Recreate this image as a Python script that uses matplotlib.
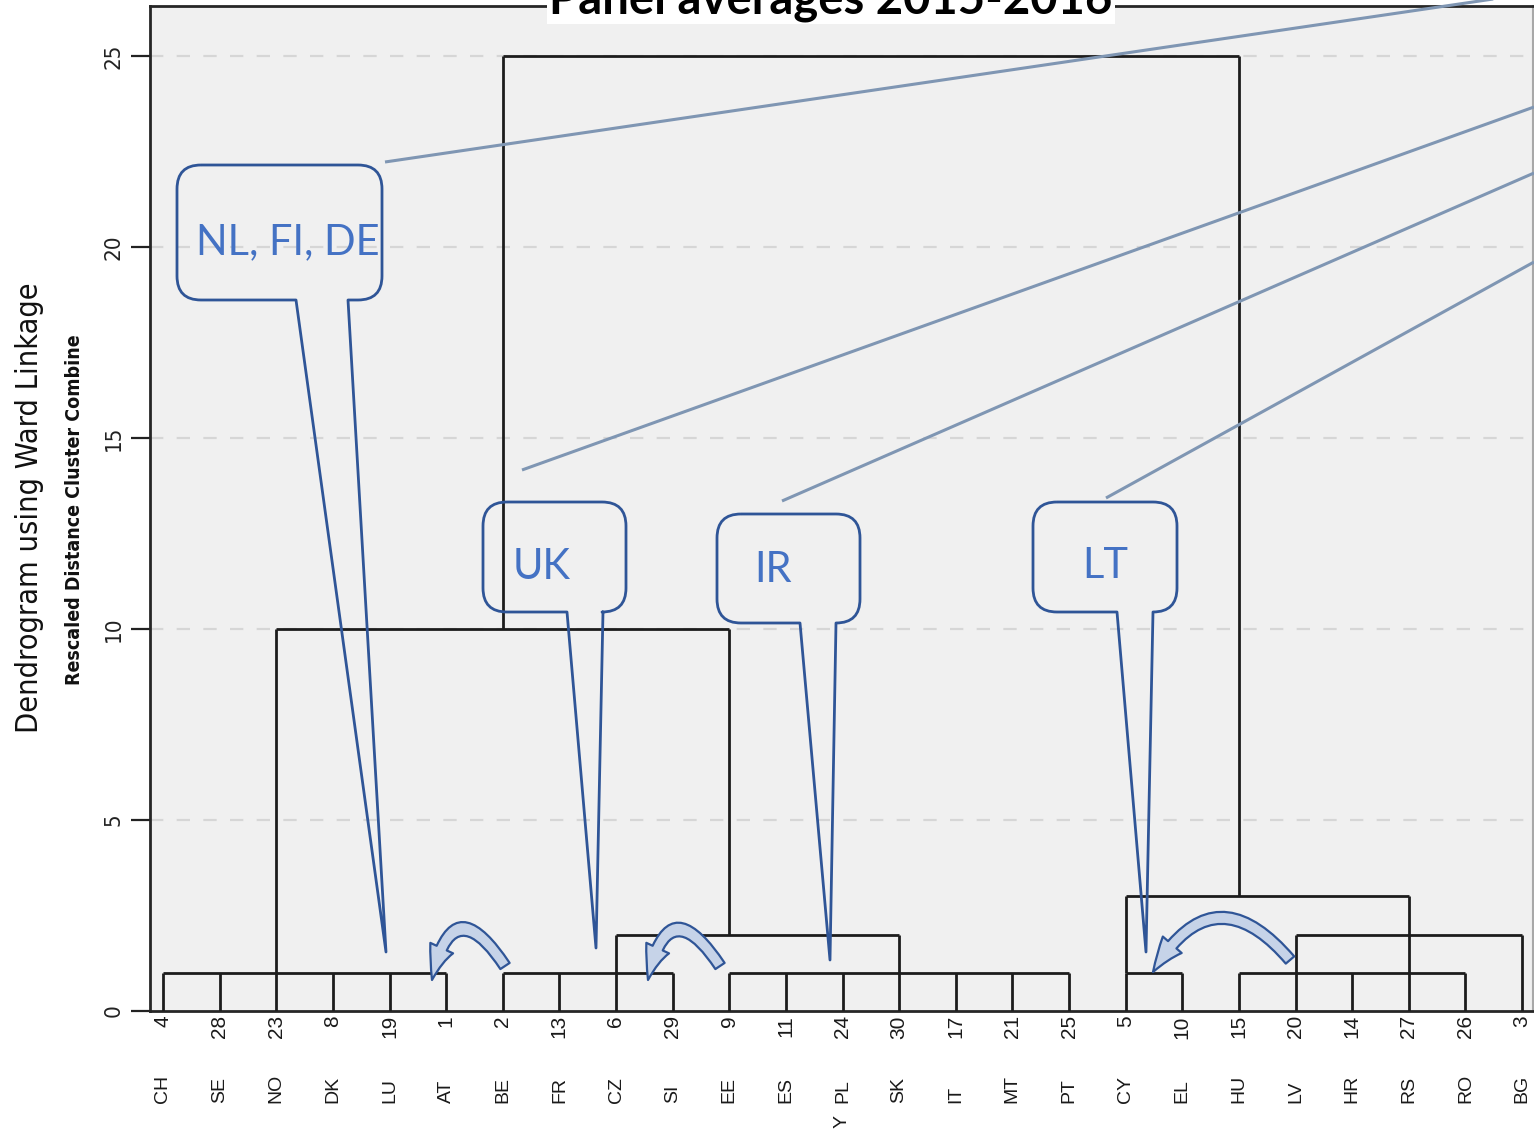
import matplotlib
matplotlib.use("Agg")
import matplotlib.pyplot as plt
from matplotlib.path import Path
from matplotlib.patches import PathPatch, FancyArrowPatch

# leaves in dendrogram order
countries = ['CH', 'SE', 'NO', 'DK', 'LU', 'AT', 'BE', 'FR', 'CZ', 'SI', 'EE', 'ES', 'PL',
             'SK', 'IT', 'MT', 'PT', 'CY', 'EL', 'HU', 'LV', 'HR', 'RS', 'RO', 'BG']
case_ids = [4, 28, 23, 8, 19, 1, 2, 13, 6, 29, 9, 11, 24, 30, 17, 21, 25, 5, 10, 15, 20, 14, 27, 26, 3]
leaf_top = [1] * 24 + [2]

# horizontal joins: first leaf, last leaf, rescaled distance
join_left = [0, 6, 10, 17, 19, 8, 20, 17, 2, 6]
join_right = [5, 9, 16, 18, 23, 13, 24, 22, 10, 19]
join_height = [1, 1, 1, 1, 1, 2, 2, 3, 10, 25]

# vertical stems above the leaf level
stem_leaf = [8, 13, 10, 2, 6, 19, 17, 22, 20]
stem_low = [1, 1, 2, 1, 10, 3, 1, 1, 1]
stem_high = [2, 2, 10, 10, 25, 25, 3, 3, 2]

y_ticks = [0, 5, 10, 15, 20, 25]

# callout notes
notes = ['NL, FI, DE', 'UK', 'IR', 'LT']

W, H = 1534, 1131
fig = plt.figure(figsize=(W / 100, H / 100), dpi=100)
fig.patch.set_facecolor('white')

narrow = dict(family='DejaVu Sans', fontstretch='condensed')
arial = ['Liberation Sans', 'DejaVu Sans']

ax = fig.add_axes([150 / W, (H - 1011) / H, (1533 - 150) / W, (1011 - 6) / H])
ax.set_facecolor('#f0f0f0')
ax.set_xlim(-13 / 56.625, 24 + 11 / 56.625)
ax.set_ylim(0, 1005 / 38.2)

line_kw = dict(color='#1c1c1c', lw=2.0, zorder=3)
ax.vlines(range(len(countries)), 0, leaf_top, **line_kw)
ax.hlines(join_height, join_left, join_right, **line_kw)
ax.vlines(stem_leaf, stem_low, stem_high, **line_kw)

ax.set_yticks(y_ticks)
ax.set_yticklabels([str(t) for t in y_ticks], rotation=90, va='center',
                   fontsize=16, **narrow)
ax.tick_params(axis='y', direction='out', length=14, width=1.6, pad=5, colors='#222222')
ax.set_xticks([])
ax.yaxis.grid(True, linestyle=(0, (6, 6)), color='#d6d6d6', lw=1.6, zorder=1)
ax.yaxis.get_gridlines()[0].set_visible(False)
ax.set_axisbelow(True)
for s in ['left', 'top', 'bottom']:
    ax.spines[s].set_color('#262626')
    ax.spines[s].set_linewidth(2)
ax.spines['right'].set_color('#a8a8a8')
ax.spines['right'].set_linewidth(1.5)

for i, (c, n) in enumerate(zip(countries, case_ids)):
    ax.annotate(str(n), (i, 0), xytext=(0, -3), textcoords='offset points',
                rotation=90, ha='center', va='top', fontsize=15, family=arial,
                color='#1a1a1a', annotation_clip=False)
    ax.annotate(c, (i, 0), xytext=(0, -92 * 0.72), textcoords='offset points',
                rotation=90, ha='center', va='bottom', fontsize=14, family=arial,
                color='#1a1a1a', annotation_clip=False)
ax.annotate('Y', (countries.index('PL'), 0), xytext=(0, -104 * 0.72),
            textcoords='offset points', rotation=90, ha='center', va='top',
            fontsize=14, family=arial, color='#1a1a1a', annotation_clip=False)

fig.text(30 / W, 1 - 508 / H, 'Dendrogram using Ward Linkage', rotation=90,
         ha='center', va='center', fontsize=22, color='#111111', **narrow)
fig.text(75 / W, 1 - 510 / H, 'Rescaled Distance Cluster Combine', rotation=90,
         ha='center', va='center', fontsize=14, fontweight='bold', color='#111111',
         **narrow)
fig.text(831 / W, 1 - 13 / H, 'Panel averages 2015-2016', ha='center', va='baseline',
         fontsize=34, fontweight='bold', family=['Lato', 'DejaVu Sans'], color='black',
         bbox=dict(facecolor='white', edgecolor='none', pad=2))

# overlay layer in pixel units for the hand-drawn callouts
ov = fig.add_axes([0, 0, 1, 1], zorder=10)
ov.set_xlim(0, W)
ov.set_ylim(H, 0)
ov.axis('off')
ov.patch.set_alpha(0)

blue = '#2f5597'

# leader lines running off to the top right
lead_start = [(385, 162), (522, 470), (782, 501), (1106, 498)]
lead_end = [(1534, -7), (1534, 107), (1534, 173), (1534, 262)]
for (xa, ya), (xb, yb) in zip(lead_start, lead_end):
    ov.plot([xa, xb], [ya, yb], color='#7f96b3', lw=2.2, solid_capstyle='butt')


def callout(x0, y0, x1, y1, bx0, bx1, tip, r=24):
    C3 = Path.CURVE3
    verts = [(x0 + r, y0), (x1 - r, y0), (x1, y0), (x1, y0 + r), (x1, y1 - r),
             (x1, y1), (x1 - r, y1), (bx1, y1), tip, (bx0, y1), (x0 + r, y1),
             (x0, y1), (x0, y1 - r), (x0, y0 + r), (x0, y0), (x0 + r, y0)]
    codes = [Path.MOVETO, Path.LINETO, C3, C3, Path.LINETO, C3, C3, Path.LINETO,
             Path.LINETO, Path.LINETO, Path.LINETO, C3, C3, Path.LINETO, C3, C3]
    ov.add_patch(PathPatch(Path(verts, codes), facecolor='none', edgecolor=blue,
                           lw=2.0, joinstyle='round'))


boxes = [(177, 165, 382, 300), (483, 502, 626, 612), (717, 514, 860, 623), (1033, 502, 1177, 612)]
bases = [(296, 348), (567, 603), (800, 836), (1117, 1153)]
tips = [(386, 952), (596, 948), (830, 960), (1146, 952)]
text_pos = [(288, 242), (542, 567), (773, 570), (1105, 566)]
for box, base, tip, tp, note in zip(boxes, bases, tips, text_pos, notes):
    callout(box[0], box[1], box[2], box[3], base[0], base[1], tip)
    ov.text(tp[0], tp[1], note, ha='center', va='center', fontsize=30,
            family=['Lato', 'DejaVu Sans'], color='#4472c4')

# curved arrows
arrow_tail = [(505, 966), (720, 966), (1290, 960)]
arrow_head = [(432, 980), (648, 980), (1153, 972)]
arrow_rad = [1.2, 1.2, 0.7]
for a, b, rad in zip(arrow_tail, arrow_head, arrow_rad):
    ov.add_patch(FancyArrowPatch(a, b, connectionstyle=f'arc3,rad={rad}',
                                 arrowstyle='simple,head_length=2.4,head_width=1.8,tail_width=0.8',
                                 mutation_scale=10, facecolor='#c6d3e8', edgecolor=blue,
                                 lw=1.6, shrinkA=0, shrinkB=0))

fig.savefig('out.png', dpi=100)
